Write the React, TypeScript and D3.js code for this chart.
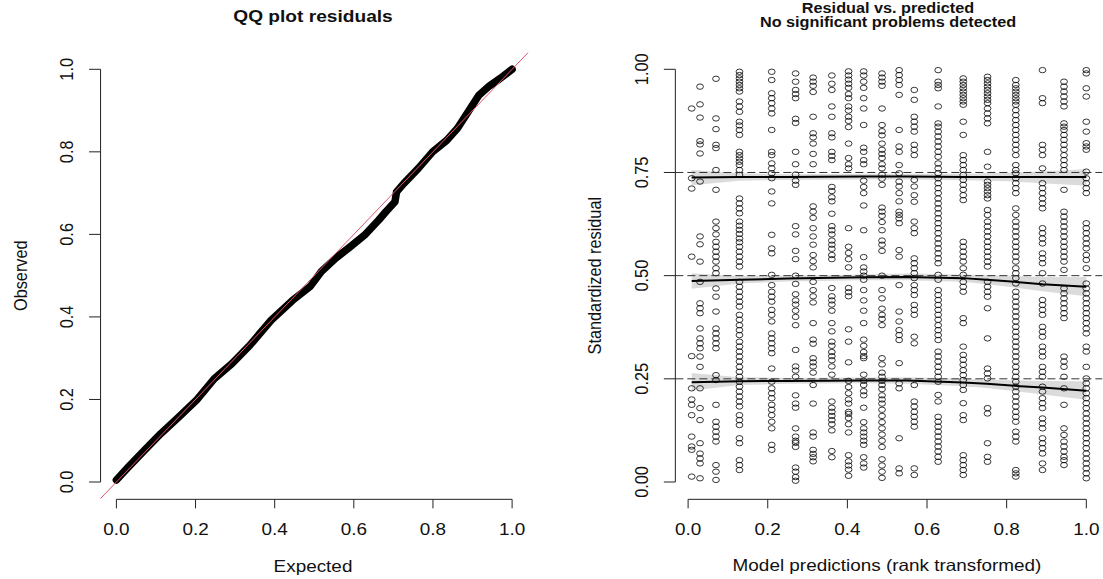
import React from "react";
import * as d3 from "d3";

// ---------- LEFT: QQ plot data ----------
const qqExpected = [0.0, 0.03, 0.067, 0.112, 0.157, 0.202, 0.247, 0.292, 0.337, 0.391, 0.445, 0.49, 0.518, 0.554, 0.591, 0.627, 0.663, 0.681, 0.704, 0.708, 0.726, 0.763, 0.799, 0.835, 0.862, 0.889, 0.916, 0.943, 0.97, 1.0];
const qqObserved = [0.005, 0.036, 0.073, 0.117, 0.157, 0.198, 0.25, 0.287, 0.331, 0.392, 0.44, 0.474, 0.51, 0.542, 0.57, 0.598, 0.635, 0.655, 0.679, 0.703, 0.723, 0.76, 0.8, 0.828, 0.857, 0.897, 0.937, 0.96, 0.978, 1.0];
const leftTicks = ["0.0", "0.2", "0.4", "0.6", "0.8", "1.0"];

// ---------- RIGHT: residual vs predicted ----------
const colX = [0.009, 0.03, 0.07, 0.129, 0.21, 0.27, 0.314, 0.361, 0.403, 0.441, 0.487, 0.53, 0.568, 0.628, 0.691, 0.752, 0.823, 0.89, 0.944, 1.0];
const col01 = [0.905, 0.736, 0.711, 0.546, 0.305, 0.227, 0.2, 0.187, 0.162, 0.11, 0.086, 0.078, 0.013];
const col02 = [0.958, 0.915, 0.883, 0.826, 0.818, 0.796, 0.728, 0.595, 0.576, 0.534, 0.485, 0.433, 0.421, 0.409, 0.372, 0.348, 0.336, 0.324, 0.304, 0.279, 0.227, 0.179, 0.15, 0.094, 0.069, 0.057, 0.045, 0.009];
const col03 = [0.977, 0.881, 0.855, 0.817, 0.809, 0.756, 0.708, 0.631, 0.615, 0.6, 0.582, 0.57, 0.558, 0.546, 0.534, 0.518, 0.506, 0.469, 0.449, 0.413, 0.372, 0.36, 0.348, 0.336, 0.324, 0.259, 0.247, 0.187, 0.146, 0.134, 0.122, 0.11, 0.098, 0.041, 0.025, 0.005];
const col04 = [0.994, 0.986, 0.978, 0.97, 0.962, 0.954, 0.946, 0.922, 0.91, 0.897, 0.873, 0.864, 0.853, 0.841, 0.8, 0.792, 0.784, 0.776, 0.768, 0.756, 0.744, 0.687, 0.675, 0.663, 0.651, 0.631, 0.621, 0.611, 0.601, 0.59, 0.581, 0.57, 0.558, 0.546, 0.534, 0.522, 0.485, 0.473, 0.461, 0.449, 0.437, 0.425, 0.405, 0.393, 0.38, 0.368, 0.356, 0.34, 0.328, 0.316, 0.304, 0.292, 0.279, 0.267, 0.255, 0.243, 0.231, 0.219, 0.207, 0.195, 0.183, 0.162, 0.15, 0.138, 0.106, 0.094, 0.053, 0.041, 0.029];
const col05 = [0.994, 0.974, 0.942, 0.93, 0.918, 0.905, 0.893, 0.853, 0.8, 0.792, 0.772, 0.76, 0.748, 0.736, 0.704, 0.675, 0.599, 0.566, 0.554, 0.502, 0.477, 0.461, 0.449, 0.437, 0.417, 0.405, 0.389, 0.36, 0.348, 0.336, 0.324, 0.312, 0.275, 0.243, 0.227, 0.215, 0.203, 0.187, 0.175, 0.162, 0.146, 0.13, 0.09, 0.078];
const col06 = [0.99, 0.97, 0.95, 0.94, 0.93, 0.88, 0.87, 0.8, 0.77, 0.745, 0.73, 0.72, 0.62, 0.6, 0.56, 0.54, 0.5, 0.48, 0.455, 0.44, 0.43, 0.415, 0.4, 0.38, 0.32, 0.28, 0.27, 0.255, 0.21, 0.19, 0.18, 0.13, 0.11, 0.1, 0.095, 0.085, 0.035, 0.025, 0.012, 0.003];
const col07 = [0.98, 0.97, 0.96, 0.945, 0.885, 0.845, 0.835, 0.82, 0.795, 0.77, 0.668, 0.655, 0.64, 0.615, 0.595, 0.575, 0.55, 0.535, 0.52, 0.485, 0.465, 0.45, 0.435, 0.385, 0.345, 0.335, 0.3, 0.29, 0.28, 0.265, 0.235, 0.19, 0.12, 0.11, 0.078, 0.068, 0.06, 0.05];
const col08 = [0.985, 0.965, 0.95, 0.91, 0.885, 0.845, 0.835, 0.8, 0.79, 0.78, 0.715, 0.705, 0.69, 0.68, 0.65, 0.62, 0.61, 0.6, 0.585, 0.575, 0.565, 0.55, 0.54, 0.47, 0.45, 0.44, 0.43, 0.415, 0.385, 0.365, 0.34, 0.33, 0.315, 0.305, 0.295, 0.28, 0.26, 0.195, 0.18, 0.17, 0.16, 0.15, 0.14, 0.125, 0.075, 0.06];
const col09 = [0.995, 0.985, 0.975, 0.965, 0.955, 0.94, 0.93, 0.91, 0.9, 0.885, 0.875, 0.86, 0.82, 0.785, 0.77, 0.76, 0.615, 0.57, 0.555, 0.54, 0.52, 0.47, 0.46, 0.45, 0.37, 0.34, 0.29, 0.245, 0.23, 0.215, 0.2, 0.19, 0.17, 0.165, 0.155, 0.14, 0.12, 0.065, 0.05, 0.04, 0.03, 0.015];
const col10 = [0.995, 0.985, 0.97, 0.955, 0.93, 0.905, 0.865, 0.81, 0.8, 0.78, 0.77, 0.73, 0.715, 0.7, 0.67, 0.61, 0.545, 0.52, 0.51, 0.5, 0.49, 0.465, 0.44, 0.415, 0.385, 0.345, 0.33, 0.315, 0.305, 0.3, 0.26, 0.245, 0.235, 0.22, 0.21, 0.18, 0.145, 0.13, 0.12, 0.11, 0.1, 0.09, 0.06, 0.045, 0.035];
const col11 = [0.99, 0.98, 0.97, 0.96, 0.905, 0.865, 0.85, 0.84, 0.82, 0.805, 0.795, 0.785, 0.77, 0.76, 0.745, 0.735, 0.72, 0.665, 0.655, 0.645, 0.63, 0.61, 0.585, 0.575, 0.56, 0.5, 0.465, 0.445, 0.42, 0.405, 0.395, 0.38, 0.3, 0.285, 0.265, 0.255, 0.245, 0.235, 0.225, 0.21, 0.2, 0.19, 0.175, 0.16, 0.145, 0.13, 0.115, 0.1, 0.085, 0.055, 0.04, 0.025, 0.01];
const col12 = [0.998, 0.986, 0.974, 0.962, 0.938, 0.853, 0.813, 0.8, 0.768, 0.748, 0.728, 0.716, 0.7, 0.68, 0.655, 0.647, 0.639, 0.627, 0.562, 0.546, 0.477, 0.413, 0.389, 0.368, 0.356, 0.344, 0.288, 0.239, 0.227, 0.106, 0.033, 0.021];
const col13 = [0.95, 0.926, 0.885, 0.873, 0.861, 0.849, 0.817, 0.805, 0.792, 0.732, 0.716, 0.695, 0.679, 0.631, 0.615, 0.603, 0.542, 0.53, 0.518, 0.506, 0.494, 0.477, 0.465, 0.453, 0.429, 0.417, 0.405, 0.352, 0.336, 0.235, 0.195, 0.183, 0.17, 0.158, 0.146, 0.134, 0.033, 0.017];
const col14 = [0.998, 0.97, 0.962, 0.954, 0.91, 0.869, 0.861, 0.849, 0.837, 0.825, 0.813, 0.8, 0.788, 0.772, 0.76, 0.748, 0.736, 0.724, 0.712, 0.7, 0.687, 0.675, 0.663, 0.651, 0.639, 0.627, 0.615, 0.603, 0.59, 0.578, 0.566, 0.554, 0.542, 0.53, 0.502, 0.49, 0.465, 0.453, 0.441, 0.429, 0.417, 0.405, 0.393, 0.38, 0.368, 0.356, 0.344, 0.316, 0.304, 0.292, 0.279, 0.267, 0.255, 0.243, 0.211, 0.195, 0.158, 0.146, 0.134, 0.122, 0.11, 0.098, 0.086, 0.074, 0.061, 0.049];
const col15 = [0.978, 0.97, 0.962, 0.954, 0.946, 0.938, 0.93, 0.922, 0.914, 0.873, 0.841, 0.792, 0.78, 0.768, 0.756, 0.744, 0.732, 0.72, 0.708, 0.695, 0.683, 0.582, 0.57, 0.558, 0.546, 0.534, 0.518, 0.502, 0.485, 0.473, 0.461, 0.397, 0.385, 0.328, 0.308, 0.296, 0.284, 0.271, 0.259, 0.247, 0.235, 0.223, 0.191, 0.162, 0.15, 0.065, 0.053, 0.041, 0.029, 0.017];
const col16 = [0.982, 0.974, 0.966, 0.958, 0.95, 0.942, 0.934, 0.926, 0.918, 0.905, 0.893, 0.881, 0.869, 0.8, 0.764, 0.728, 0.72, 0.712, 0.704, 0.695, 0.687, 0.659, 0.647, 0.631, 0.619, 0.607, 0.595, 0.582, 0.57, 0.558, 0.546, 0.534, 0.522, 0.485, 0.473, 0.461, 0.449, 0.421, 0.348, 0.275, 0.263, 0.251, 0.179, 0.166, 0.094, 0.061, 0.049];
const col17 = [0.974, 0.962, 0.954, 0.946, 0.938, 0.93, 0.922, 0.914, 0.901, 0.889, 0.877, 0.865, 0.853, 0.841, 0.829, 0.817, 0.805, 0.792, 0.768, 0.756, 0.748, 0.736, 0.724, 0.712, 0.7, 0.663, 0.647, 0.631, 0.619, 0.607, 0.595, 0.582, 0.57, 0.558, 0.546, 0.534, 0.518, 0.506, 0.494, 0.481, 0.461, 0.449, 0.437, 0.425, 0.413, 0.401, 0.389, 0.376, 0.364, 0.352, 0.34, 0.328, 0.316, 0.304, 0.292, 0.279, 0.267, 0.255, 0.243, 0.231, 0.219, 0.207, 0.195, 0.183, 0.17, 0.158, 0.146, 0.122, 0.11, 0.098, 0.029, 0.021, 0.013];
const col18 = [0.998, 0.93, 0.918, 0.817, 0.805, 0.792, 0.76, 0.724, 0.712, 0.7, 0.687, 0.675, 0.663, 0.615, 0.603, 0.59, 0.578, 0.554, 0.542, 0.53, 0.506, 0.481, 0.441, 0.429, 0.417, 0.405, 0.376, 0.364, 0.352, 0.328, 0.316, 0.304, 0.279, 0.267, 0.255, 0.231, 0.219, 0.203, 0.191, 0.179, 0.154, 0.142, 0.13, 0.106, 0.094, 0.082, 0.069, 0.045, 0.029];
const col19 = [0.97, 0.958, 0.946, 0.934, 0.922, 0.91, 0.869, 0.861, 0.853, 0.841, 0.829, 0.817, 0.805, 0.792, 0.78, 0.768, 0.756, 0.708, 0.655, 0.643, 0.631, 0.619, 0.607, 0.595, 0.582, 0.57, 0.558, 0.546, 0.534, 0.514, 0.469, 0.457, 0.445, 0.433, 0.421, 0.409, 0.397, 0.304, 0.292, 0.279, 0.255, 0.227, 0.187, 0.13, 0.114, 0.098, 0.086, 0.074, 0.061, 0.053, 0.041];
const col20 = [0.998, 0.99, 0.954, 0.934, 0.873, 0.849, 0.821, 0.813, 0.805, 0.752, 0.736, 0.724, 0.712, 0.7, 0.627, 0.615, 0.603, 0.59, 0.578, 0.566, 0.55, 0.538, 0.518, 0.481, 0.469, 0.457, 0.445, 0.433, 0.421, 0.409, 0.397, 0.385, 0.372, 0.36, 0.328, 0.316, 0.279, 0.251, 0.239, 0.227, 0.215, 0.203, 0.191, 0.179, 0.166, 0.154, 0.142, 0.13, 0.118, 0.106, 0.094, 0.082, 0.069, 0.057, 0.045, 0.033, 0.021, 0.009];
const columns = [col01, col02, col03, col04, col05, col06, col07, col08, col09, col10, col11, col12, col13, col14, col15, col16, col17, col18, col19, col20];

// quantile regression curves
const qX = [0.009, 0.13, 0.25, 0.44, 0.55, 0.69, 0.75, 0.82, 0.89, 1.0];
const q25Mid = [0.242, 0.244, 0.245, 0.246, 0.246, 0.241, 0.238, 0.233, 0.229, 0.221];
const q25Lo = [0.222, 0.235, 0.238, 0.239, 0.238, 0.232, 0.228, 0.22, 0.212, 0.199];
const q25Hi = [0.264, 0.254, 0.252, 0.253, 0.254, 0.25, 0.248, 0.246, 0.245, 0.244];
const q50Mid = [0.487, 0.49, 0.493, 0.496, 0.497, 0.494, 0.49, 0.485, 0.479, 0.473];
const q50Lo = [0.468, 0.481, 0.486, 0.489, 0.489, 0.485, 0.479, 0.471, 0.462, 0.45];
const q50Hi = [0.506, 0.499, 0.5, 0.503, 0.505, 0.503, 0.501, 0.499, 0.497, 0.497];
const q75Mid = [0.738, 0.739, 0.739, 0.74, 0.74, 0.739, 0.739, 0.739, 0.739, 0.739];
const q75Lo = [0.719, 0.73, 0.732, 0.733, 0.733, 0.731, 0.73, 0.728, 0.724, 0.718];
const q75Hi = [0.756, 0.748, 0.746, 0.747, 0.747, 0.747, 0.748, 0.75, 0.753, 0.758];
const quantileLevels = [0.25, 0.5, 0.75];
const rightYTicks = ["0.00", "0.25", "0.50", "0.75", "1.00"];
const rightXTicks = ["0.0", "0.2", "0.4", "0.6", "0.8", "1.0"];

const SX = 1.16;
const FONT = "'Liberation Sans', Arial, Helvetica, sans-serif";

function Txt({ x, y, children, size = 16.3, weight = "normal", anchor = "middle", rot = false }: any) {
  return (
    <text
      transform={`translate(${x},${y}) scale(${SX},1)${rot ? " rotate(-90)" : ""}`}
      textAnchor={anchor}
      fontSize={size}
      fontWeight={weight}
      fontFamily={FONT}
      fill="#111"
    >
      {children}
    </text>
  );
}

export default function App() {
  const y = d3.scaleLinear().domain([0, 1]).range([482, 69.3]);
  const xL = d3.scaleLinear().domain([0, 1]).range([116.4, 512.1]);
  const xR = d3.scaleLinear().domain([0, 1]).range([688.1, 1086.3]);

  const leftAxisX = xL(-0.04);
  const bottomAxisY = y(-0.042);
  const rightAxisX = xR(-0.032);
  const rightEdge = xR(1.04);

  const qqLine = d3
    .line<number>()
    .x((_, i) => xL(qqExpected[i]))
    .y((d) => y(d))
    .curve(d3.curveLinear);

  const qLine = (mid: number[]) =>
    d3
      .line<number>()
      .x((_, i) => xR(qX[i]))
      .y((d) => y(d))(mid) || "";
  const qArea = (lo: number[], hi: number[]) =>
    d3
      .area<number>()
      .x((_, i) => xR(qX[i]))
      .y0((d) => y(d))
      .y1((_, i) => y(hi[i]))(lo) || "";

  const leftVals = leftTicks.map((t) => +t);
  const rightYVals = rightYTicks.map((t) => +t);
  const rightXVals = rightXTicks.map((t) => +t);

  return (
    <svg width={1103} height={579} style={{ position: "absolute", left: 0, top: 0, background: "#fff" }}>
      <rect width={1103} height={579} fill="#fff" />
      {/* ---------- LEFT PANEL ---------- */}
      <Txt x={313} y={21.5} size={16.5} weight="bold">QQ plot residuals</Txt>
      <line x1={leftAxisX} x2={leftAxisX} y1={y(0)} y2={y(1)} stroke="#222" strokeWidth={1} />
      {leftVals.map((v, i) => (
        <g key={"ly" + i}>
          <line x1={leftAxisX - 11.5} x2={leftAxisX} y1={y(v)} y2={y(v)} stroke="#222" strokeWidth={1} />
          <Txt x={leftAxisX - 27.5} y={y(v)} rot>{leftTicks[i]}</Txt>
        </g>
      ))}
      <line x1={xL(0)} x2={xL(1)} y1={bottomAxisY} y2={bottomAxisY} stroke="#222" strokeWidth={1} />
      {leftVals.map((v, i) => (
        <g key={"lx" + i}>
          <line x1={xL(v)} x2={xL(v)} y1={bottomAxisY} y2={bottomAxisY + 9} stroke="#222" strokeWidth={1} />
          <Txt x={xL(v)} y={534.5}>{leftTicks[i]}</Txt>
        </g>
      ))}
      <Txt x={313} y={571.5}>Expected</Txt>
      <Txt x={26.5} y={275.7} rot>Observed</Txt>
      <path d={qqLine(qqObserved) || ""} fill="none" stroke="#000" strokeWidth={7.5} strokeLinejoin="round" strokeLinecap="round" />
      <line x1={xL(-0.04)} y1={y(-0.04)} x2={xL(1.04)} y2={y(1.04)} stroke="#E0536B" strokeWidth={1} />

      {/* ---------- RIGHT PANEL ---------- */}
      <Txt x={888} y={12.5} size={14} weight="bold">Residual vs. predicted</Txt>
      <Txt x={888} y={27.3} size={14} weight="bold">No significant problems detected</Txt>

      {columns.map((col, ci) =>
        col.map((v, j) => (
          <ellipse
            key={ci + "-" + j}
            cx={xR(colX[ci])}
            cy={y(v)}
            rx={3.4}
            ry={2.7}
            fill="none"
            stroke="#000"
            strokeOpacity={0.78}
            strokeWidth={1}
          />
        ))
      )}

      <path d={qArea(q25Lo, q25Hi)} fill="#000" fillOpacity={0.14} stroke="none" />
      <path d={qArea(q50Lo, q50Hi)} fill="#000" fillOpacity={0.14} stroke="none" />
      <path d={qArea(q75Lo, q75Hi)} fill="#000" fillOpacity={0.14} stroke="none" />

      {quantileLevels.map((q) => (
        <line key={"h" + q} x1={rightAxisX} x2={rightEdge} y1={y(q)} y2={y(q)} stroke="#333" strokeWidth={1} strokeDasharray="8,4" />
      ))}

      <path d={qLine(q25Mid)} fill="none" stroke="#000" strokeWidth={2} />
      <path d={qLine(q50Mid)} fill="none" stroke="#000" strokeWidth={2} />
      <path d={qLine(q75Mid)} fill="none" stroke="#000" strokeWidth={2} />

      <line x1={rightAxisX} x2={rightAxisX} y1={y(0)} y2={y(1)} stroke="#222" strokeWidth={1} />
      {rightYVals.map((v, i) => (
        <g key={"ry" + i}>
          <line x1={rightAxisX - 11.5} x2={rightAxisX} y1={y(v)} y2={y(v)} stroke="#222" strokeWidth={1} />
          <Txt x={rightAxisX - 27} y={y(v)} rot>{rightYTicks[i]}</Txt>
        </g>
      ))}
      <line x1={xR(0)} x2={xR(1)} y1={bottomAxisY} y2={bottomAxisY} stroke="#222" strokeWidth={1} />
      {rightXVals.map((v, i) => (
        <g key={"rx" + i}>
          <line x1={xR(v)} x2={xR(v)} y1={bottomAxisY} y2={bottomAxisY + 9} stroke="#222" strokeWidth={1} />
          <Txt x={xR(v)} y={535}>{rightXTicks[i]}</Txt>
        </g>
      ))}
      <Txt x={887} y={571}>Model predictions (rank transformed)</Txt>
      <Txt x={600.5} y={275.7} rot>Standardized residual</Txt>
    </svg>
  );
}
